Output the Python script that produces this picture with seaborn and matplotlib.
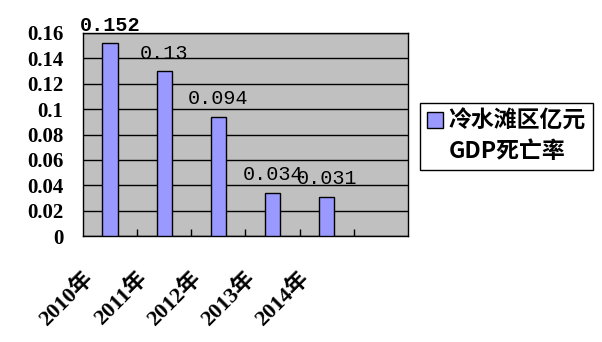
import matplotlib
matplotlib.use("Agg")
import matplotlib.pyplot as plt
from matplotlib.patches import Patch
from matplotlib.transforms import ScaledTranslation
import seaborn as sns
import pandas as pd

years = ["2010年", "2011年", "2012年", "2013年", "2014年"]
rates = [0.152, 0.13, 0.094, 0.034, 0.031]
value_labels = ["0.152", "0.13", "0.094", "0.034", "0.031"]
ytick_vals = [0, 0.02, 0.04, 0.06, 0.08, 0.1, 0.12, 0.14, 0.16]
ytick_labels = ["0", "0.02", "0.04", "0.06", "0.08", "0.1", "0.12", "0.14", "0.16"]
legend_lines = ["冷水滩区亿元", "GDP死亡率"]

df = pd.DataFrame({"year": years, "rate": rates})

fig = plt.figure(figsize=(6.02, 3.42), dpi=100)
ax = fig.add_axes([83/602, 1-236/342, (408-83)/602, (236-33)/342])
ax.set_facecolor("#C0C0C0")

sns.barplot(data=df, x="year", y="rate", color="#9999FF", saturation=1,
            edgecolor="black", linewidth=1, width=0.28, ax=ax, zorder=3)

ax.set_xlim(-0.5, 5.5)
ax.set_ylim(0, 0.16)
ax.set_xlabel("")
ax.set_ylabel("")

# grid
ax.set_yticks(ytick_vals)
ax.set_yticklabels(ytick_labels, fontfamily="Liberation Serif", fontweight="bold", fontsize=15)
ax.yaxis.grid(True, color="black", linewidth=1, zorder=1)
ax.set_axisbelow(True)
ax.tick_params(axis="y", length=0, pad=14)

# x ticks
ax.set_xticks(range(len(years)))
ax.set_xticklabels(years, rotation=45, ha="right", va="top",
                   fontfamily=["Liberation Serif", "Noto Sans CJK SC"], fontweight="bold", fontsize=16)
ax.tick_params(axis="x", which="major", length=0, pad=23)
ax.set_xticks([0.5, 1.5, 2.5, 3.5, 4.5], minor=True)
ax.tick_params(axis="x", which="minor", direction="in", length=5, width=1, color="black")
offset = ScaledTranslation(-13/100, 0, fig.dpi_scale_trans)
for lab in ax.get_xticklabels():
    lab.set_transform(lab.get_transform() + offset)

for s in ax.spines.values():
    s.set_color("black")
    s.set_linewidth(1)

# value labels
for i, (v, t) in enumerate(zip(rates, value_labels)):
    ax.annotate(t, (i, v), xytext=(0, 13), textcoords="offset points",
                ha="center", va="center", fontfamily="Liberation Mono",
                fontsize=14.5, fontweight="bold" if i == 0 else "normal",
                annotation_clip=False, zorder=5)

handles = [Patch(facecolor="#9999FF", edgecolor="black", linewidth=1),
           Patch(facecolor="none", edgecolor="none")]
leg = fig.legend(handles, legend_lines, loc="upper left",
                 bbox_to_anchor=(420/602, 1-103/342), bbox_transform=fig.transFigure,
                 prop={"family": ["Noto Sans CJK SC"], "weight": "bold", "size": 16.5},
                 frameon=True, fancybox=False, shadow=False, framealpha=1,
                 edgecolor="black", handlelength=0.7, handleheight=0.7,
                 handletextpad=0.25, borderpad=0.3, labelspacing=0.3, borderaxespad=0)
leg.get_frame().set_linewidth(1)

fig.savefig("out.png", dpi=100)
